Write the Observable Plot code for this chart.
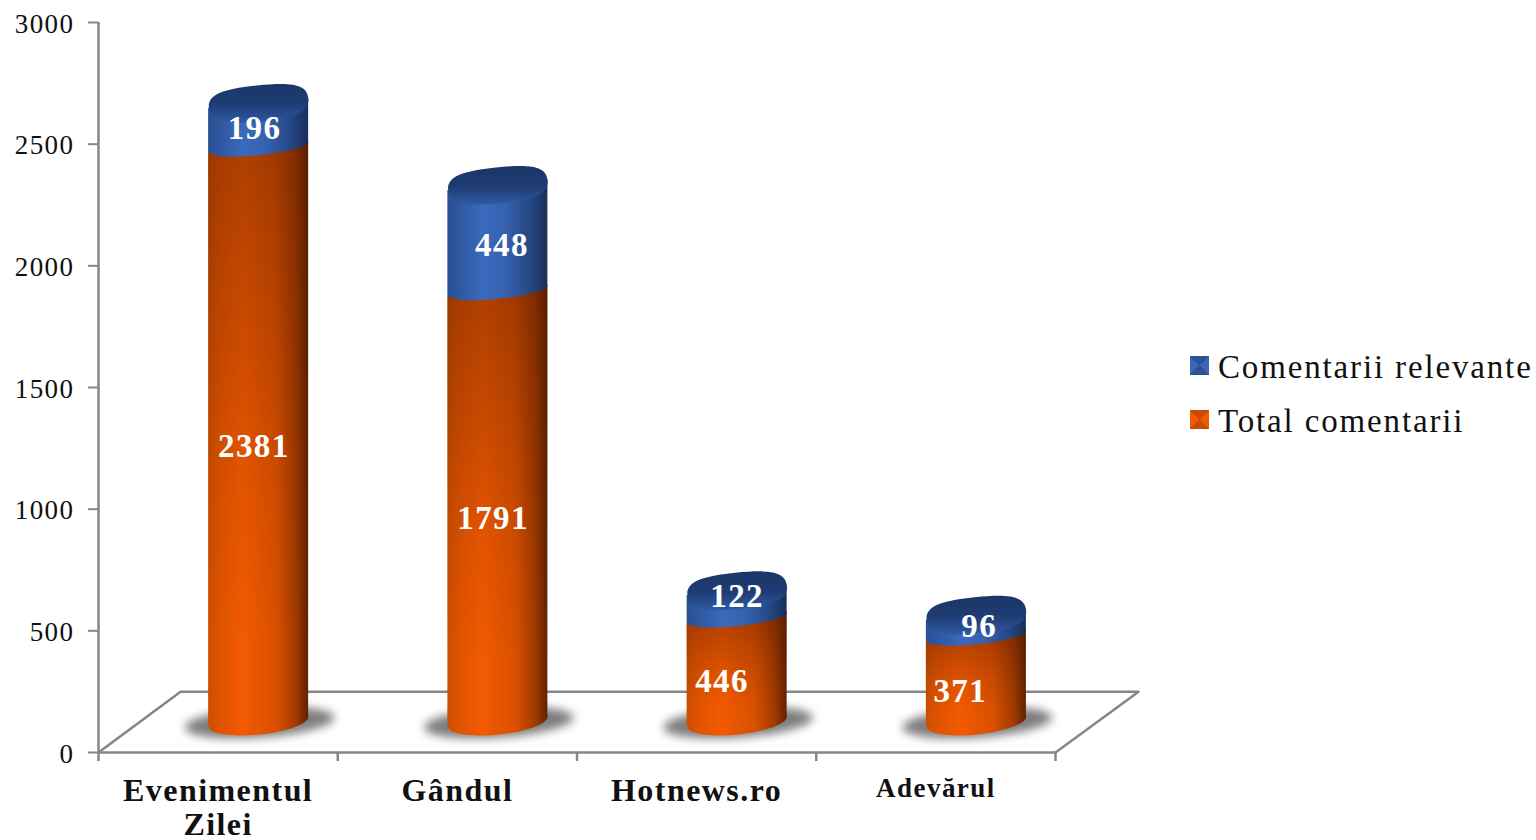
<!DOCTYPE html>
<html><head><meta charset="utf-8">
<script src="https://cdn.jsdelivr.net/npm/d3@7"></script>
<script src="https://cdn.jsdelivr.net/npm/@observablehq/plot@0.6"></script>
<style>
html,body{margin:0;padding:0;background:#fff;overflow:hidden}
#wrap{position:relative;width:1536px;height:840px}
#wrap svg text{letter-spacing:1.45px}
#wrap svg g[aria-label="categories"] text{letter-spacing:2.4px}
.leg{position:absolute;font:33px "Liberation Serif",serif;color:#111;letter-spacing:1.85px;white-space:nowrap;line-height:38px;left:1218px}
.sw{position:absolute;left:1190px;width:19px;height:19px}
</style></head><body><div id="wrap"></div>
<script>
const categories = ["Evenimentul\nZilei", "Gândul", "Hotnews.ro", "Adevărul"];
const totalComments = [2381, 1791, 446, 371];
const relevantComments = [196, 448, 122, 96];
const yTicks = [0, 500, 1000, 1500, 2000, 2500, 3000];
const seriesNames = ["Comentarii relevante", "Total comentarii"];
// where each value label sits (axis units)
const totalLabelAt = [1130, 834, 164, 123];
const relevantLabelAt = [2437, 1956, 514, 390];
const totalLabelShift = [-0.02, -0.02, -0.063, -0.067];
const relevantLabelShift = [-0.017, 0.017, 0, 0.012];

const halfW = 0.209, barDx = 40.5, barDy = -31, tilt = 21;
const F = '"Liberation Serif",serif';
const bars = categories.map((name, i) => ({
  name, c: i + 0.5, total: totalComments[i], rel: relevantComments[i],
  base: 0,
  // 3-D perspective: seam and lid sit slightly below their nominal height
  seam: totalComments[i] - 19,
  top: (totalComments[i] + relevantComments[i]) * 0.997 - 29
}));
// a body is drawn as a band whose ends follow the tilt of the ellipses
const band = (lo, hi) => bars.flatMap(d => [
  {name: d.name, x: d.c - halfW, y1: d[lo] - tilt, y2: d[hi] - tilt},
  {name: d.name, x: d.c + halfW, y1: d[lo] + tilt, y2: d[hi] + tilt}
]);
function ell(rx, ry, deg, k = 0.5523) {
  const t = deg * Math.PI / 180, c = Math.cos(t), s = Math.sin(t);
  const p = (x, y) => [x * c - y * s, x * s + y * c];
  return {draw(ctx) {
    const seg = (a, b, e) => ctx.bezierCurveTo(...p(...a), ...p(...b), ...p(...e));
    ctx.moveTo(...p(rx, 0));
    seg([rx, k * ry], [k * rx, ry], [0, ry]);
    seg([-k * rx, ry], [-rx, k * ry], [-rx, 0]);
    seg([-rx, -k * ry], [-k * rx, -ry], [0, -ry]);
    seg([k * rx, -ry], [rx, -k * ry], [rx, 0]);
    ctx.closePath();
  }};
}
const defs = () => {
  const d = document.createElementNS("http://www.w3.org/2000/svg", "defs");
  d.innerHTML = `
  <linearGradient id="hO"><stop offset="0" stop-color="#cc4e00"/><stop offset=".1" stop-color="#de5300"/><stop offset=".35" stop-color="#f25a00"/><stop offset=".68" stop-color="#d85000"/><stop offset=".88" stop-color="#a03900"/><stop offset="1" stop-color="#5f2200"/></linearGradient>
  <linearGradient id="vO" x2="0" y2="1"><stop offset="0" stop-color="#501800" stop-opacity=".42"/><stop offset=".55" stop-color="#501800" stop-opacity=".1"/><stop offset=".85" stop-color="#501800" stop-opacity="0"/></linearGradient>
  <linearGradient id="hB"><stop offset="0" stop-color="#2a4f92"/><stop offset=".35" stop-color="#3b69bd"/><stop offset=".6" stop-color="#3560ad"/><stop offset=".85" stop-color="#24447f"/><stop offset="1" stop-color="#172e58"/></linearGradient>
  <linearGradient id="tB" x2="0" y2="1"><stop offset="0" stop-color="#1b3666"/><stop offset=".55" stop-color="#1f3d75"/><stop offset="1" stop-color="#2f5aa4"/></linearGradient>`;
  return d;
};
const gray = "#868686";
const pos = {dx: barDx, dy: barDy};
const chart = Plot.plot({
  width: 1536, height: 840,
  marginLeft: 98, marginRight: 481, marginTop: 22, marginBottom: 88,
  style: {background: "transparent", overflow: "visible"},
  x: {domain: [0, 4], axis: null},
  y: {domain: [0, 3000], axis: null},
  marks: [
    defs,
    Plot.line([[0, 0], [0.343, 250], [4.347, 250], [4, 0]], {x: "0", y: "1", stroke: gray, strokeWidth: 2.5}),
    Plot.ruleY([0], {stroke: gray, strokeWidth: 2.5}),
    Plot.ruleX([0], {stroke: gray, strokeWidth: 2.5}),
    Plot.axisY({ticks: yTicks, tickSize: 10, stroke: gray, strokeWidth: 2, label: null, tickFormat: () => ""}),
    Plot.axisY({ticks: yTicks, tickSize: 0, tickPadding: 24, dy: 1.5, label: null, fontSize: 27, fontFamily: F, color: "#111", tickFormat: d => String(d)}),
    Plot.axisX({ticks: [0, 1, 2, 3, 4], tickSize: 9, stroke: gray, strokeWidth: 2.5, label: null, tickFormat: () => ""}),
    // shadows
    Plot.dot(bars, {x: "c", y: 0, dx: barDx + 1, dy: barDy + 1, symbol: ell(75, 15, -4), fill: "#666", fillOpacity: .85, imageFilter: "blur(5px)"}),
    // total segment
    Plot.dot(bars, {x: "c", y: 0, ...pos, symbol: ell(50, 13, -6), fill: "url(#hO)"}),
    Plot.areaY(band("base", "seam"), {x: "x", y1: "y1", y2: "y2", z: "name", ...pos, fill: "url(#hO)"}),
    Plot.areaY(band("base", "seam"), {x: "x", y1: "y1", y2: "y2", z: "name", ...pos, fill: "url(#vO)"}),
    // relevant segment
    Plot.dot(bars, {x: "c", y: "seam", ...pos, symbol: ell(50, 8.5, -6), fill: "url(#hB)"}),
    Plot.areaY(band("seam", "top"), {x: "x", y1: "y1", y2: "y2", z: "name", ...pos, fill: "url(#hB)"}),
    Plot.dot(bars, {x: "c", y: "top", ...pos, symbol: ell(50, 18, -6, 0.74), fill: "url(#tB)"}),
    // labels
    Plot.text(bars, {x: (d, i) => d.c + totalLabelShift[i], y: (d, i) => totalLabelAt[i], text: d => String(d.total), ...pos, fill: "#fff", fontSize: 33, fontWeight: "bold", fontFamily: F}),
    Plot.text(bars, {x: (d, i) => d.c + relevantLabelShift[i], y: (d, i) => relevantLabelAt[i], text: d => String(d.rel), ...pos, fill: "#fff", fontSize: 33, fontWeight: "bold", fontFamily: F}),
    Plot.text(bars, {x: "c", y: 0, text: "name", dy: 24, lineAnchor: "top", lineHeight: 1.06, fill: "#111", ariaLabel: "categories", fontSize: (d, i) => i === 3 ? 27 : 32, fontWeight: "bold", fontFamily: F})
  ]
});
const wrap = document.getElementById("wrap");
wrap.append(chart);
const legend = [
  {name: seriesNames[0], top: 356, base: "#3a66b5", dark: "#2b5196"},
  {name: seriesNames[1], top: 410, base: "#f05a00", dark: "#c94b00"}
];
for (const l of legend) {
  const s = document.createElement("div");
  s.className = "sw"; s.style.top = l.top + "px";
  s.style.background = `conic-gradient(${l.dark} 0 45deg, ${l.base} 45deg 135deg, ${l.dark} 135deg 225deg, ${l.base} 225deg 315deg, ${l.dark} 315deg)`;
  const t = document.createElement("div");
  t.className = "leg"; t.textContent = l.name; t.style.top = (l.top - 8) + "px";
  wrap.append(s, t);
}
</script></body></html>
